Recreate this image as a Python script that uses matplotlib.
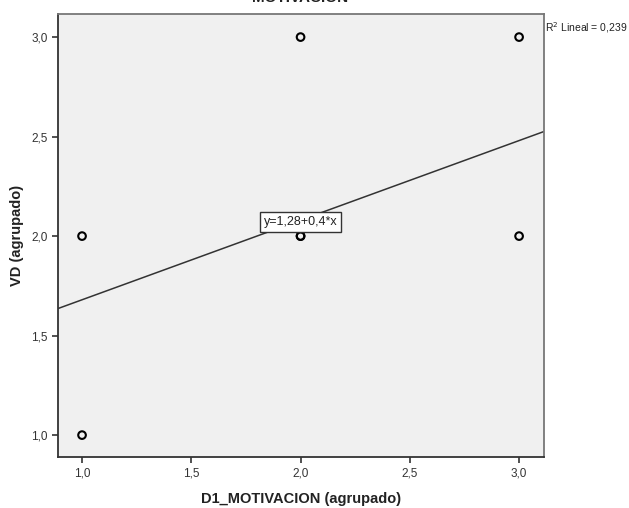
import matplotlib.pyplot as plt

plt.rcParams['font.family'] = ['Liberation Sans', 'DejaVu Sans']

x_vals = [1, 1, 2, 2, 2, 3, 3]
y_vals = [2, 1, 3, 2, 2, 3, 2]
intercept = 1.28
slope = 0.4
r2_text = 'R$^2$ Lineal = 0,239'
eq_text = 'y=1,28+0,4*x'
x_ticks = [1.0, 1.5, 2.0, 2.5, 3.0]
y_ticks = [1.0, 1.5, 2.0, 2.5, 3.0]

fig = plt.figure(figsize=(6.29, 5.08), dpi=100)
ax = fig.add_axes([58 / 629, 1 - 457 / 508, (544 - 58) / 629, (457 - 14) / 508])
ax.set_facecolor('#f0f0f0')

xmin, xmax = 0.89, 3.114
ax.set_xlim(xmin, xmax)
ax.set_ylim(0.89, 3.116)

ax.plot([xmin, xmax], [intercept + slope * xmin, intercept + slope * xmax],
        color='#333333', lw=1.1, zorder=2)
ax.scatter(x_vals, y_vals, s=30, facecolors='none', edgecolors='black',
           linewidths=1.5, zorder=3)

ax.text(2.0, 2.07, eq_text, ha='center', va='center', fontsize=9, color='#222222',
        bbox=dict(boxstyle='square,pad=0.3', fc='white', ec='#333333', lw=1),
        zorder=4)

ax.set_xticks(x_ticks)
ax.set_yticks(y_ticks)
ax.set_xticklabels([f'{v:.1f}'.replace('.', ',') for v in x_ticks])
ax.set_yticklabels([f'{v:.1f}'.replace('.', ',') for v in y_ticks])
ax.tick_params(direction='out', length=4, width=1.2, colors='#333333',
               labelsize=8.5, labelcolor='#333333')

for side in ['left', 'bottom']:
    ax.spines[side].set_color('#333333')
    ax.spines[side].set_linewidth(1.3)
for side in ['top', 'right']:
    ax.spines[side].set_color('#777777')
    ax.spines[side].set_linewidth(1.3)

ax.set_xlabel('D1_MOTIVACION (agrupado)', fontsize=10.5, fontweight='bold',
              color='#222222', labelpad=9)
ax.set_ylabel('VD (agrupado)', fontsize=10.5, fontweight='bold',
              color='#222222', labelpad=5)

fig.text(300 / 629, 1 - 5 / 508, 'MOTIVACION', ha='center', va='bottom',
         fontsize=11, fontweight='bold', color='#222222')
fig.text(545 / 629, 1 - 28 / 508, r2_text, ha='left', va='center',
         fontsize=7.5, color='#222222')

fig.savefig('out.png', dpi=100)
